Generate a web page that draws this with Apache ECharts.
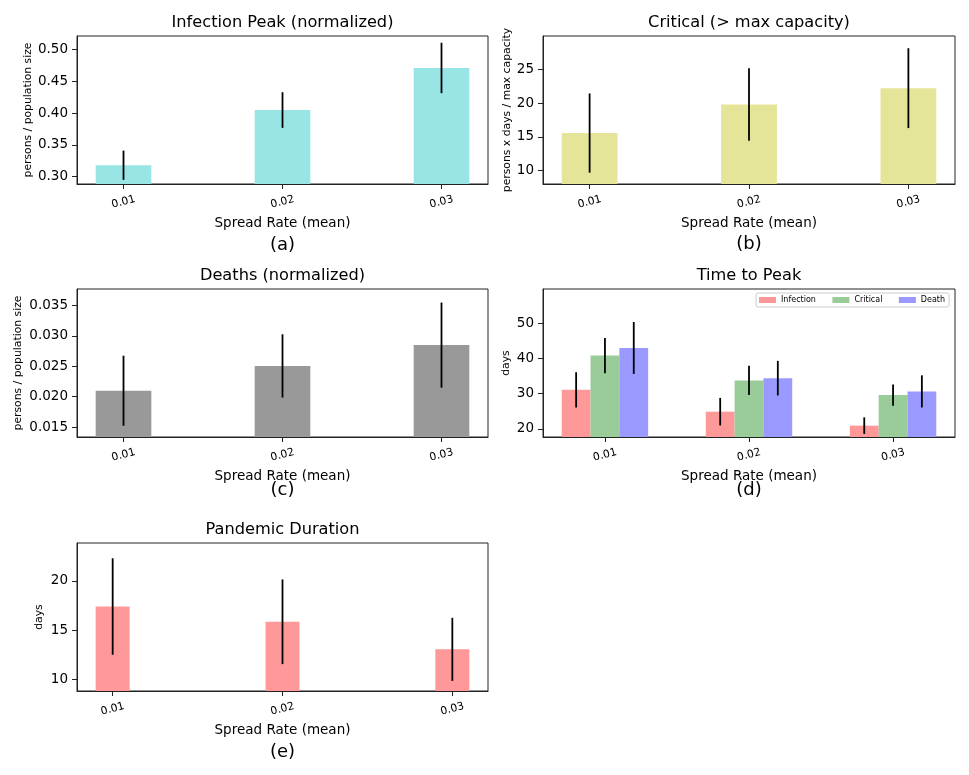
<!DOCTYPE html>
<html>
<head>
<meta charset="utf-8">
<script src="https://cdn.jsdelivr.net/npm/echarts@6/dist/echarts.min.js"></script>
<style>html,body{margin:0;padding:0;background:#fff}#c{width:969px;height:775px}</style>
</head>
<body>
<div id="c"></div>
<script>
// ---- data ----
const categories = ['0.01', '0.02', '0.03'];

const infectionPeak    = [0.318, 0.4047, 0.4708];
const infectionPeakErr = [0.023, 0.028, 0.0396];

const criticalOver    = [15.56, 19.8, 22.25];
const criticalOverErr = [5.9, 5.4, 5.95];

const deaths    = [0.02097, 0.02505, 0.02847];
const deathsErr = [0.00576, 0.0052, 0.0070];

const peakInfection    = [31.08, 24.9, 20.95];
const peakInfectionErr = [5.0, 3.9, 2.35];
const peakCritical     = [40.78, 33.75, 29.6];
const peakCriticalErr  = [4.98, 4.15, 3.0];
const peakDeath        = [42.95, 34.4, 30.65];
const peakDeathErr     = [7.35, 4.9, 4.55];

const duration    = [17.4, 15.85, 13.05];
const durationErr = [4.9, 4.3, 3.2];

const ticksA = [0.30, 0.35, 0.40, 0.45, 0.50];
const ticksB = [10, 15, 20, 25];
const ticksC = [0.015, 0.020, 0.025, 0.030, 0.035];
const ticksD = [20, 30, 40, 50];
const ticksE = [10, 15, 20];

// ---- styling / layout ----
const FONT = '"DejaVu Sans", sans-serif';
const grids = [
  {left: 77,  top: 36,  width: 411, height: 148},
  {left: 543, top: 36,  width: 412, height: 148},
  {left: 77,  top: 289, width: 411, height: 148},
  {left: 543, top: 289, width: 412, height: 148},
  {left: 77,  top: 543, width: 411, height: 148}
];
grids.forEach(g => { g.show = true; g.borderColor = '#222'; g.borderWidth = 1; g.containLabel = false; });

function xAxisCfg(gi, min, max) {
  return {
    type: 'value', gridIndex: gi, min: min, max: max, z: 10,
    name: 'Spread Rate (mean)', nameLocation: 'middle', nameGap: 32,
    nameTextStyle: {fontSize: 13.5, fontFamily: FONT, color: '#000'},
    axisLine: {show: true, onZero: false, lineStyle: {color: '#222', width: 1}},
    axisTick: {show: true, inside: false, length: 5, customValues: [0, 1, 2], lineStyle: {color: '#222', width: 1}},
    axisLabel: {
      customValues: [0, 1, 2], rotate: 15, margin: 18, align: 'center', verticalAlign: 'middle',
      fontSize: 10.8, fontFamily: FONT, color: '#000',
      formatter: v => categories[Math.round(v)]
    },
    splitLine: {show: false}
  };
}
function yAxisCfg(gi, min, max, ticks, dec, name, nameGap) {
  return {
    type: 'value', gridIndex: gi, min: min, max: max, z: 10,
    name: name, nameLocation: 'middle', nameGap: nameGap,
    nameTextStyle: {fontSize: 10.8, fontFamily: FONT, color: '#000'},
    axisLine: {show: true, onZero: false, lineStyle: {color: '#222', width: 1}},
    axisTick: {show: true, inside: false, length: 5, customValues: ticks, lineStyle: {color: '#222', width: 1}},
    axisLabel: {
      customValues: ticks, margin: 9, fontSize: 13.5, fontFamily: FONT, color: '#000',
      formatter: v => Number(v).toFixed(dec)
    },
    splitLine: {show: false}
  };
}

function makeRender(barW) {
  return function (params, api) {
    const x = api.value(0), v = api.value(1), e = api.value(2);
    const top = api.coord([x, v]);
    const base = api.coord([x, 0]);
    const w = api.size([barW, 0])[0];
    const cs = params.coordSys;
    const rect = echarts.graphic.clipRectByRect(
      {x: top[0] - w / 2, y: top[1], width: w, height: base[1] - top[1]},
      {x: cs.x, y: cs.y, width: cs.width, height: cs.height}
    );
    const lo = api.coord([x, v - e]);
    const hi = api.coord([x, v + e]);
    return {
      type: 'group',
      children: [
        {type: 'rect', shape: rect, style: {fill: api.visual('color')}},
        {type: 'line', shape: {x1: lo[0], y1: lo[1], x2: hi[0], y2: hi[1]}, style: {stroke: '#000', lineWidth: 1.8}}
      ]
    };
  };
}
function toData(vals, errs, offset) {
  return vals.map((v, i) => [i + (offset || 0), v, errs[i]]);
}
function barSeries(gi, name, vals, errs, color, barW, offset) {
  return {
    type: 'custom', name: name, xAxisIndex: gi, yAxisIndex: gi,
    itemStyle: {color: color},
    renderItem: makeRender(barW),
    encode: {x: 0, y: 1},
    data: toData(vals, errs, offset)
  };
}

const titles = [
  ['Infection Peak (normalized)', 282.5, 23],
  ['Critical (> max capacity)', 749, 23],
  ['Deaths (normalized)', 282.5, 276],
  ['Time to Peak', 749, 276],
  ['Pandemic Duration', 282.5, 529.5]
];
const panelLabels = [
  ['(a)', 282.5, 245], ['(b)', 749, 244.5], ['(c)', 282.5, 490], ['(d)', 749, 490], ['(e)', 282.5, 752.5]
];
const graphics = [];
titles.forEach(t => graphics.push({type: 'text', x: t[1], y: t[2], style: {text: t[0], font: '16.2px ' + FONT, fill: '#000', align: 'center', verticalAlign: 'middle'}}));
panelLabels.forEach(t => graphics.push({type: 'text', x: t[1], y: t[2], style: {text: t[0], font: '18px ' + FONT, fill: '#000', align: 'center', verticalAlign: 'middle'}}));

const option = {
  animation: false,
  backgroundColor: '#fff',
  grid: grids,
  xAxis: [
    xAxisCfg(0, -0.2925, 2.2925),
    xAxisCfg(1, -0.2925, 2.2925),
    xAxisCfg(2, -0.2925, 2.2925),
    xAxisCfg(3, -0.43, 2.43),
    xAxisCfg(4, -0.21, 2.21)
  ],
  yAxis: [
    yAxisCfg(0, 0.2885, 0.521, ticksA, 2, 'persons / population size', 43),
    yAxisCfg(1, 7.97, 30.02, ticksB, 0, 'persons x days / max capacity', 28.5),
    yAxisCfg(2, 0.01336, 0.0377, ticksC, 3, 'persons / population size', 53.5),
    yAxisCfg(3, 17.73, 59.65, ticksD, 0, 'days', 31),
    yAxisCfg(4, 8.82, 23.85, ticksE, 0, 'days', 32)
  ],
  legend: {
    left: 756, top: 293, orient: 'horizontal',
    itemWidth: 17, itemHeight: 6, itemGap: 16.5,
    padding: [3, 4, 3, 3],
    borderColor: '#cccccc', borderWidth: 1, borderRadius: 2,
    backgroundColor: 'rgba(255,255,255,0.8)',
    textStyle: {fontSize: 8, fontFamily: FONT, color: '#000'},
    data: [
      {name: 'Infection', icon: 'rect'},
      {name: 'Critical', icon: 'rect'},
      {name: 'Death', icon: 'rect'}
    ]
  },
  graphic: graphics,
  series: [
    barSeries(0, 'a', infectionPeak, infectionPeakErr, '#99e5e5', 0.35, 0),
    barSeries(1, 'b', criticalOver, criticalOverErr, '#e5e599', 0.35, 0),
    barSeries(2, 'c', deaths, deathsErr, '#999999', 0.35, 0),
    barSeries(3, 'Infection', peakInfection, peakInfectionErr, '#ff9999', 0.2, -0.2),
    barSeries(3, 'Critical', peakCritical, peakCriticalErr, '#99cc99', 0.2, 0),
    barSeries(3, 'Death', peakDeath, peakDeathErr, '#9999ff', 0.2, 0.2),
    barSeries(4, 'e', duration, durationErr, '#ff9999', 0.2, 0)
  ]
};

const chart = echarts.init(document.getElementById('c'), null, {renderer: 'canvas'});
chart.setOption(option);
</script>
</body>
</html>
